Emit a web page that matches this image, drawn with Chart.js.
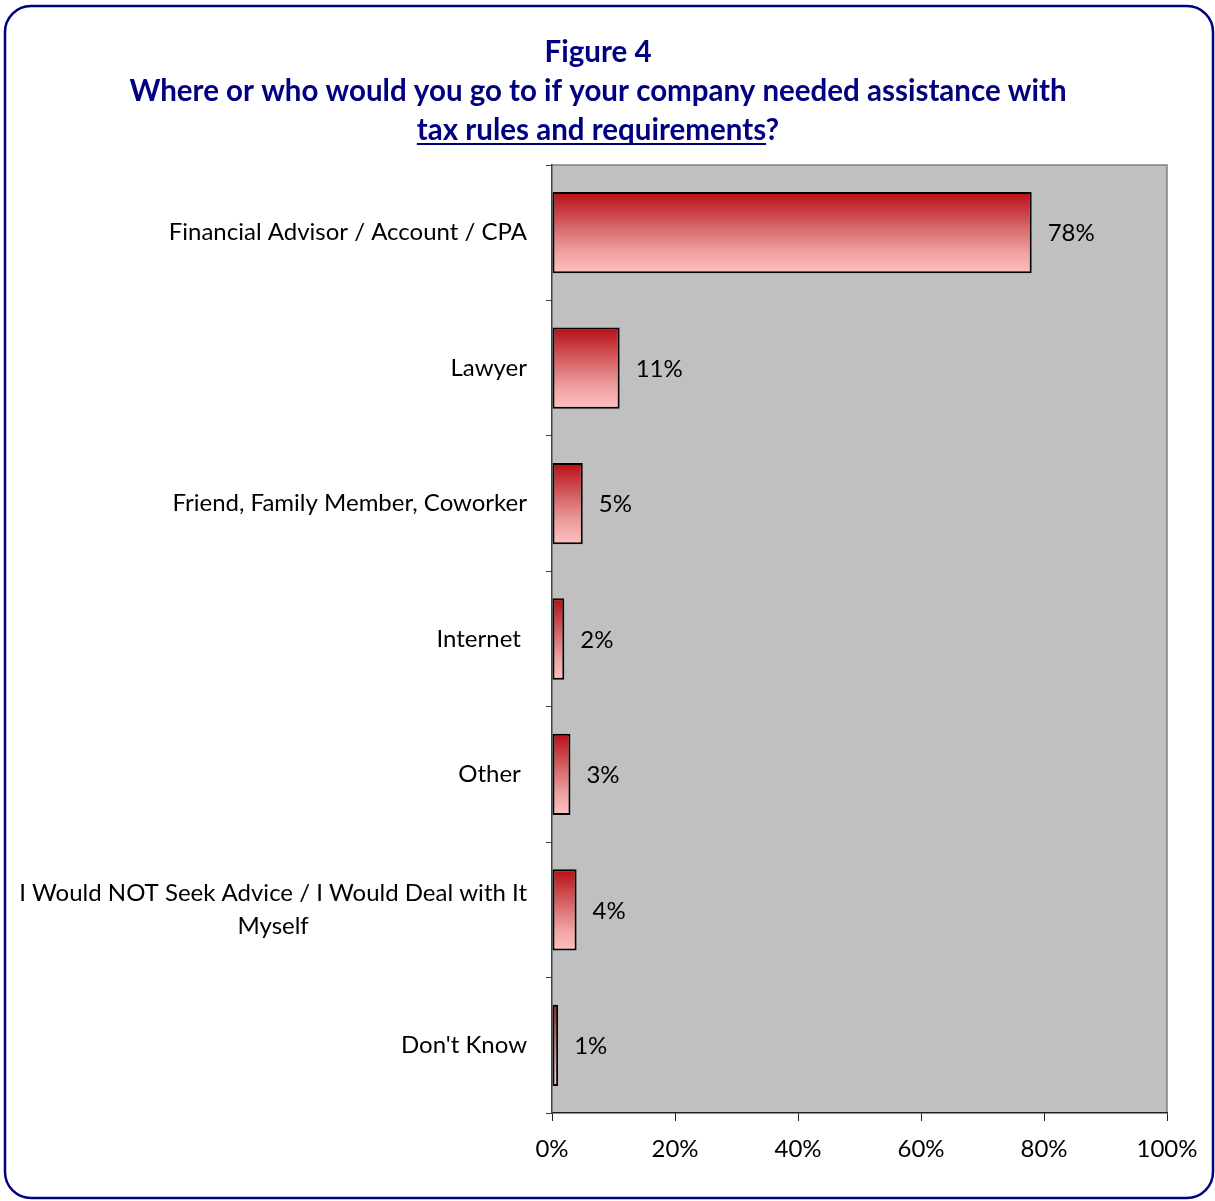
<!DOCTYPE html>
<html lang="en">
<head>
    <meta charset="UTF-8">
    <title>Figure 4 - Tax assistance sources</title>
    <script src="https://cdn.jsdelivr.net/npm/chart.js"></script>
    <style>
        body {
            margin: 0;
            background: #ffffff;
        }
        #chart {
            display: block;
        }
    </style>
</head>
<body>
    <canvas id="chart" width="1215" height="1201"></canvas>

    <script>
        const categories = [
            ['Financial Advisor / Account / CPA'],
            ['Lawyer'],
            ['Friend, Family Member, Coworker'],
            ['Internet '],
            ['Other '],
            ['I Would NOT Seek Advice / I Would Deal with It', 'Myself'],
            ["Don't Know"]
        ];
        const shares = [78, 11, 5, 2, 3, 4, 1];
        const xTicks = [0, 20, 40, 60, 80, 100];

        const NAVY = '#000080';
        const FONT = 'Lato, "Open Sans", sans-serif';
        const BAR_PCT = 0.6;

        // vertical red-to-pink fill, one gradient per bar
        function barFill(ctx) {
            const chart = ctx.chart;
            const area = chart.chartArea;
            if (!area || ctx.dataIndex === undefined) return '#d96a6e';
            const y = chart.scales.y;
            const band = (area.bottom - area.top) / categories.length;
            const half = band * BAR_PCT / 2;
            const mid = y.getPixelForValue(ctx.dataIndex);
            const g = chart.ctx.createLinearGradient(0, mid - half, 0, mid + half);
            g.addColorStop(0, '#b80d14');
            g.addColorStop(0.45, '#d96a6d');
            g.addColorStop(0.75, '#efa3a4');
            g.addColorStop(1, '#ffbfbf');
            return g;
        }

        // outer frame, title and plot background
        const frame = {
            id: 'frame',
            beforeDraw(chart) {
                const c = chart.ctx;
                const a = chart.chartArea;
                c.save();
                c.fillStyle = '#c0c0c0';
                c.fillRect(a.left, a.top, a.right - a.left, a.bottom - a.top);
                c.strokeStyle = '#808080';
                c.lineWidth = 1.5;
                c.beginPath();
                c.moveTo(a.left, a.top);
                c.lineTo(a.right, a.top);
                c.lineTo(a.right, a.bottom);
                c.stroke();

                c.strokeStyle = NAVY;
                c.lineWidth = 2.5;
                c.beginPath();
                c.roundRect(5, 6, 1208, 1192, 26);
                c.stroke();

                c.fillStyle = NAVY;
                c.textAlign = 'center';
                c.textBaseline = 'middle';
                c.font = 'bold 29.5px ' + FONT;
                c.fillText('Figure 4', 598, 52);
                c.fillText('Where or who would you go to if your company needed assistance with', 598, 91);

                const part = 'tax rules and requirements';
                const full = part + '?';
                const w = c.measureText(full).width;
                const x0 = 598 - w / 2;
                c.textAlign = 'left';
                c.fillText(full, x0, 130);
                const uw = c.measureText(part).width;
                c.fillRect(x0, 143, uw, 2);
                c.restore();
            },
            afterDraw(chart) {
                // category labels: right-aligned block, lines centred inside it
                const c = chart.ctx;
                const y = chart.scales.y;
                c.save();
                c.fillStyle = '#000';
                c.font = '24px ' + FONT;
                c.textBaseline = 'middle';
                const right = 527;
                categories.forEach((lines, i) => {
                    const mid = y.getPixelForValue(i);
                    const widths = lines.map(t => c.measureText(t).width);
                    const bw = Math.max(...widths);
                    const lh = 33;
                    const top = mid - (lines.length - 1) * lh / 2;
                    lines.forEach((t, k) => {
                        c.textAlign = 'center';
                        c.fillText(t, right - bw / 2, top + k * lh);
                    });
                });
                c.restore();
            }
        };

        // percentage next to the end of each bar
        const valueLabels = {
            id: 'valueLabels',
            afterDatasetsDraw(chart) {
                const c = chart.ctx;
                const meta = chart.getDatasetMeta(0);
                c.save();
                c.fillStyle = '#000';
                c.font = '24px ' + FONT;
                c.textAlign = 'left';
                c.textBaseline = 'middle';
                meta.data.forEach((bar, i) => {
                    c.fillText(shares[i] + '%', bar.x + 16, bar.y + 1);
                });
                c.restore();
            }
        };

        new Chart(document.getElementById('chart'), {
            type: 'bar',
            data: {
                labels: categories,
                datasets: [{
                    data: shares,
                    backgroundColor: barFill,
                    borderColor: '#000',
                    borderWidth: 2,
                    borderSkipped: false,
                    barPercentage: BAR_PCT,
                    categoryPercentage: 1
                }]
            },
            options: {
                indexAxis: 'y',
                responsive: false,
                animation: false,
                layout: {
                    padding: { left: 0, top: 165, right: 48, bottom: 20 }
                },
                plugins: {
                    legend: { display: false },
                    title: { display: false },
                    tooltip: { enabled: false }
                },
                scales: {
                    x: {
                        min: 0,
                        max: 100,
                        afterFit(scale) { scale.height = 68; },
                        afterBuildTicks(scale) {
                            scale.ticks = xTicks.map(v => ({ value: v }));
                        },
                        border: { color: '#202020', width: 1.5 },
                        grid: {
                            drawOnChartArea: false,
                            drawTicks: true,
                            tickLength: 8,
                            color: '#202020'
                        },
                        ticks: {
                            color: '#000',
                            padding: 14,
                            font: { family: FONT, size: 24 },
                            callback: v => v + '%'
                        }
                    },
                    y: {
                        afterFit(scale) { scale.width = 552; },
                        border: { color: '#404040', width: 1.5 },
                        grid: {
                            offset: true,
                            drawOnChartArea: false,
                            drawTicks: true,
                            tickLength: 6,
                            color: '#404040'
                        },
                        ticks: {
                            display: false
                        }
                    }
                }
            },
            plugins: [frame, valueLabels]
        });
    </script>
</body>
</html>
